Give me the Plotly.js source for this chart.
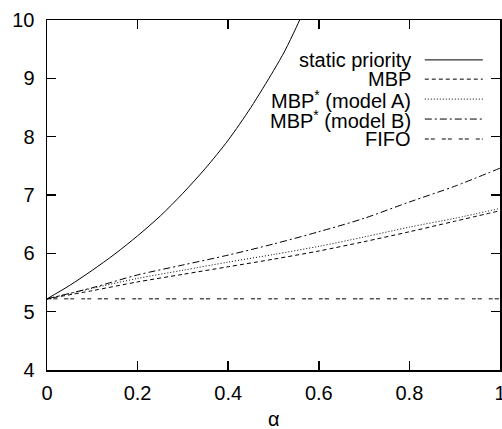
<!DOCTYPE html>
<html>
<head>
<meta charset="utf-8">
<script src="https://cdn.plot.ly/plotly-3.0.1.min.js"></script>
<style>html,body{margin:0;padding:0;background:#fff;}#chart{width:502px;height:429px;}</style>
</head>
<body>
<div id="chart"></div>
<script>
// ---- data ----
const alphaStatic = [0, 0.05, 0.1, 0.15, 0.2, 0.25, 0.3, 0.35, 0.4, 0.45, 0.5, 0.525, 0.55, 0.575];
const staticPriority = [5.22, 5.45, 5.71, 5.99, 6.30, 6.64, 7.03, 7.46, 7.94, 8.50, 9.13, 9.47, 9.87, 10.3];

const alpha = [0, 0.1, 0.2, 0.3, 0.4, 0.5, 0.6, 0.7, 0.8, 0.9, 1.0];
const mbp    = [5.22, 5.36, 5.51, 5.64, 5.77, 5.90, 6.04, 6.20, 6.37, 6.55, 6.73];
const mbpA   = [5.22, 5.40, 5.57, 5.71, 5.85, 5.98, 6.12, 6.28, 6.45, 6.60, 6.77];
const mbpB   = [5.22, 5.41, 5.63, 5.80, 5.97, 6.16, 6.37, 6.60, 6.88, 7.15, 7.46];
const fifo   = [5.22, 5.22, 5.22, 5.22, 5.22, 5.22, 5.22, 5.22, 5.22, 5.22, 5.22];

const seriesNames = ["static priority", "MBP", "MBP<sup>*</sup> (model A)", "MBP<sup>*</sup> (model B)", "FIFO"];
const xTicks = [0, 0.2, 0.4, 0.6, 0.8, 1];
const xTickText = ["0", "0.2", "0.4", "0.6", "0.8", "1"];
const yTicks = [4, 5, 6, 7, 8, 9, 10];
const xTitle = "α";

// ---- styles ----
const dashes = ["solid", "4px,3px", "1px,2px", "7px,3px,2px,3px", "4px,2px,4px,7px"];
const font = {family: "Liberation Sans, Arial, sans-serif", size: 20, color: "#000"};

const xs = [alphaStatic, alpha, alpha, alpha, alpha];
const ys = [staticPriority, mbp, mbpA, mbpB, fifo];

const traces = ys.map((y, i) => ({
  x: xs[i], y: y, type: "scatter", mode: "lines", name: seriesNames[i],
  line: {color: "#000", width: 1, dash: dashes[i], shape: "spline", smoothing: 0.8, simplify: false},
  showlegend: false, hoverinfo: "skip"
}));

// manual legend: text on the left, line sample on the right
const legRowY = [0.886, 0.831, 0.774, 0.717, 0.660];
const annotations = seriesNames.map((n, i) => ({
  xref: "paper", yref: "paper", x: 0.808, y: legRowY[i],
  xanchor: "right", yanchor: "middle", text: n, showarrow: false, font: font
}));
// x-axis title (placed as an annotation so it can sit low in the margin)
annotations.push({
  xref: "paper", yref: "paper", x: 0.5, y: -0.14,
  xanchor: "center", yanchor: "middle", text: xTitle, showarrow: false, font: font
});
const shapes = seriesNames.map((n, i) => ({
  type: "line", xref: "paper", yref: "paper",
  x0: 0.834, x1: 0.962, y0: legRowY[i], y1: legRowY[i],
  line: {color: "#000", width: 1, dash: dashes[i]}
}));

const layout = {
  width: 502, height: 429,
  margin: {l: 47, r: 2, t: 20, b: 59},
  paper_bgcolor: "#fff", plot_bgcolor: "#fff",
  font: font,
  showlegend: false,
  xaxis: {
    range: [0, 1], tickvals: xTicks, ticktext: xTickText,
    ticks: "inside", ticklen: 9, tickwidth: 1.5, tickcolor: "#000",
    showline: true, linecolor: "#000", linewidth: 1.5, mirror: "allticks",
    showgrid: false, zeroline: false, tickfont: font,
    ticklabeloverflow: "allow", ticklabelstandoff: 4
  },
  yaxis: {
    range: [4, 10], tickvals: yTicks,
    ticks: "inside", ticklen: 9, tickwidth: 1.5, tickcolor: "#000",
    showline: true, linecolor: "#000", linewidth: 1.5, mirror: "allticks",
    showgrid: false, zeroline: false, tickfont: font,
    ticklabelstandoff: 7
  },
  annotations: annotations,
  shapes: shapes
};

Plotly.newPlot("chart", traces, layout, {staticPlot: true, displayModeBar: false});
</script>
</body>
</html>
